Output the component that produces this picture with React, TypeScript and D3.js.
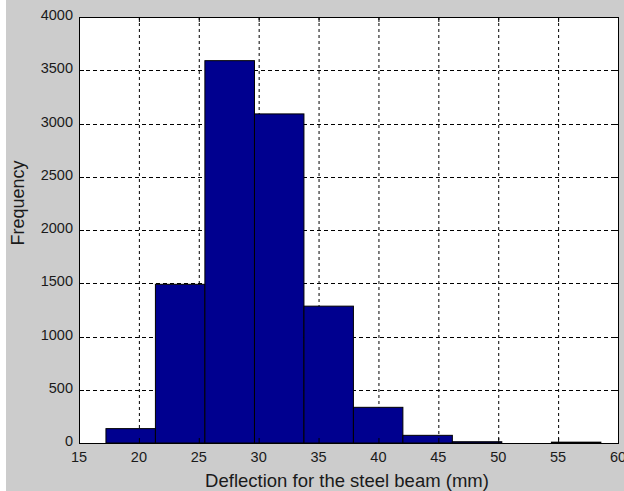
import React from "react";
import * as d3 from "d3";

const binEdges = [17.25, 21.38, 25.51, 29.65, 33.78, 37.91, 42.04, 46.17, 50.3, 54.44, 58.57];
const counts = [135, 1490, 3590, 3090, 1285, 335, 72, 12, 0, 8];
const xTicks = [15, 20, 25, 30, 35, 40, 45, 50, 55, 60];
const yTicks = [0, 500, 1000, 1500, 2000, 2500, 3000, 3500, 4000];
const xLabel = "Deflection for the steel beam (mm)";
const yLabel = "Frequency";

const W = 624, H = 491;
const L = 79, R = 618, T = 17, B = 443;

export default function App() {
  const x = d3.scaleLinear().domain([15, 60]).range([L, R]);
  const y = d3.scaleLinear().domain([0, 4000]).range([B, T]);
  const font = "Arial, 'Liberation Sans', sans-serif";
  const tl = 5;
  return (
    <svg width={W} height={H} style={{ position: "absolute", left: 0, top: 0 }} fontFamily={font}>
      <rect x={0} y={0} width={W} height={H} fill="#fff" />
      <rect x={6} y={0} width={W - 6} height={H} fill="#cccccc" />
      <rect x={L} y={T} width={R - L} height={B - T} fill="#fff" />
      {xTicks.slice(1, -1).map((t) => (
        <line key={"gx" + t} x1={x(t) + 0.5} x2={x(t) + 0.5} y1={T} y2={B} stroke="#000" strokeWidth={1} strokeDasharray="3,3" />
      ))}
      {yTicks.slice(1, -1).map((t) => (
        <line key={"gy" + t} x1={L} x2={R} y1={Math.round(y(t)) + 0.5} y2={Math.round(y(t)) + 0.5} stroke="#000" strokeWidth={1} strokeDasharray="4,3" />
      ))}
      {counts.map((c, i) =>
        c > 0 ? (
          <rect
            key={"b" + i}
            x={x(binEdges[i])}
            y={y(c)}
            width={x(binEdges[i + 1]) - x(binEdges[i])}
            height={B - y(c)}
            fill="#00008f"
            stroke="#000"
            strokeWidth={1}
          />
        ) : null
      )}
      {xTicks.map((t) => (
        <g key={"tx" + t}>
          <line x1={x(t) + 0.5} x2={x(t) + 0.5} y1={B} y2={B - tl} stroke="#000" />
          <line x1={x(t) + 0.5} x2={x(t) + 0.5} y1={T} y2={T + tl} stroke="#000" />
          <text x={x(t)} y={462} textAnchor="middle" fontSize={14.5} fill="#1a1a1a">{t}</text>
        </g>
      ))}
      {yTicks.map((t) => (
        <g key={"ty" + t}>
          <line x1={L} x2={L + tl} y1={Math.round(y(t)) + 0.5} y2={Math.round(y(t)) + 0.5} stroke="#000" />
          <line x1={R} x2={R - tl} y1={Math.round(y(t)) + 0.5} y2={Math.round(y(t)) + 0.5} stroke="#000" />
          <text x={73} y={y(t) + 3} textAnchor="end" fontSize={14.5} fill="#1a1a1a">{t}</text>
        </g>
      ))}
      <rect x={L + 0.5} y={T + 0.5} width={R - L} height={B - T} fill="none" stroke="#000" strokeWidth={1} />
      <text x={347} y={487} textAnchor="middle" fontSize={18.5} fill="#1a1a1a">{xLabel}</text>
      <text transform={`translate(24,${203}) rotate(-90)`} textAnchor="middle" fontSize={18} fill="#1a1a1a">{yLabel}</text>
    </svg>
  );
}
